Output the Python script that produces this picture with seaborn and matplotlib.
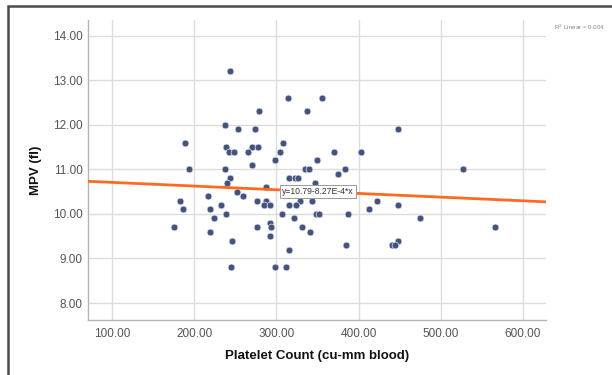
import numpy as np
import pandas as pd
import matplotlib
matplotlib.use("Agg")
import matplotlib.pyplot as plt
import seaborn as sns

# Platelet count (cu-mm blood) and mean platelet volume (fl) per subject
platelet = [244, 314, 356, 279, 337, 238, 253, 274, 448, 189,
            308, 239, 270, 278, 243, 248, 266, 305, 370, 403,
            270, 299, 349, 194, 238, 335, 340, 383, 527, 375,
            244, 316, 323, 326, 240, 347, 287, 252, 260, 217,
            183, 277, 288, 329, 344, 423, 233, 285, 292, 316,
            324, 448, 186, 219, 413, 239, 307, 348, 352, 387,
            224, 321, 475, 292, 176, 277, 294, 331, 566, 219,
            341, 292, 246, 448, 315, 385, 441, 444, 245, 298,
            312]
mpv = [13.2, 12.6, 12.6, 12.3, 12.3, 12.0, 11.9, 11.9, 11.9, 11.6,
       11.6, 11.5, 11.5, 11.5, 11.4, 11.4, 11.4, 11.4, 11.4, 11.4,
       11.1, 11.2, 11.2, 11.0, 11.0, 11.0, 11.0, 11.0, 11.0, 10.9,
       10.8, 10.8, 10.8, 10.8, 10.7, 10.7, 10.6, 10.5, 10.4, 10.4,
       10.3, 10.3, 10.3, 10.3, 10.3, 10.3, 10.2, 10.2, 10.2, 10.2,
       10.2, 10.2, 10.1, 10.1, 10.1, 10.0, 10.0, 10.0, 10.0, 10.0,
       9.9, 9.9, 9.9, 9.8, 9.7, 9.7, 9.7, 9.7, 9.7, 9.6,
       9.6, 9.5, 9.4, 9.4, 9.2, 9.3, 9.3, 9.3, 8.8, 8.8,
       8.8]

# Linear fit reported on the chart
fit_intercept = 10.79
fit_slope = -8.27e-4
r_squared = 0.004

x_ticks = [100, 200, 300, 400, 500, 600]
y_ticks = [8, 9, 10, 11, 12, 13, 14]

df = pd.DataFrame({"Platelet Count (cu-mm blood)": platelet, "MPV (fl)": mpv})

sns.set_style("white")
plt.rcParams["font.family"] = ["Liberation Sans", "DejaVu Sans"]

fig = plt.figure(figsize=(6.12, 3.75), dpi=100)
ax = fig.add_axes([88 / 612, 1 - 320 / 375, (546 - 88) / 612, (320 - 20) / 375])

xlim = (71, 628)
ylim = (7.62, 14.35)

ax.set_xticks(x_ticks)
ax.set_yticks(y_ticks)
ax.grid(True, color="#dcdcdc", linewidth=1.0)
ax.set_axisbelow(True)

sns.scatterplot(data=df, x="Platelet Count (cu-mm blood)", y="MPV (fl)", ax=ax,
                color="#44537d", s=24, edgecolor="#e4e7f0", linewidth=0.5, zorder=3)

fx = np.array(xlim, dtype=float)
fy = fit_intercept + fit_slope * fx
sns.lineplot(x=fx, y=fy, ax=ax, color="#ff6a1f", linewidth=2.0, zorder=4)

ax.set_xlim(*xlim)
ax.set_ylim(*ylim)
ax.set_xticklabels([f"{v:.2f}" for v in x_ticks])
ax.set_yticklabels([f"{v:.2f}" for v in y_ticks])
ax.tick_params(axis="both", length=0, labelsize=8.5, labelcolor="#555555", pad=4)
ax.tick_params(axis="x", pad=6)

for side in ("top", "right"):
    ax.spines[side].set_visible(False)
for side in ("left", "bottom"):
    ax.spines[side].set_color("#b5b5b5")
    ax.spines[side].set_linewidth(1.0)

ax.set_xlabel("Platelet Count (cu-mm blood)", fontsize=9.5, fontweight="bold",
              color="#111111", labelpad=7)
ax.set_ylabel("MPV (fl)", fontsize=9.5, fontweight="bold", color="#111111", labelpad=8)

# Fit equation box on the line
ex = 351
ax.text(ex, fit_intercept + fit_slope * ex,
        f"y={fit_intercept:.2f}{fit_slope * 1e4:.2f}E-4*x",
        fontsize=6.2, color="#333333", ha="center", va="center", zorder=5,
        bbox=dict(boxstyle="square,pad=0.25", facecolor="white",
                  edgecolor="#9a9a9a", linewidth=0.7))

fig.text(605 / 612, 1 - 27 / 375, f"R$^2$ Linear = {r_squared:.3f}",
         fontsize=4.5, color="#888888", ha="right", va="center")

# Outer frame around the figure (top and left edges visible)
frame = plt.Rectangle((8 / 612, -0.05), 1.2, 1 - 6 / 375 + 0.05,
                      transform=fig.transFigure, fill=False,
                      edgecolor="#4a4a4a", linewidth=1.8)
fig.add_artist(frame)

fig.savefig("out.png", dpi=100)
